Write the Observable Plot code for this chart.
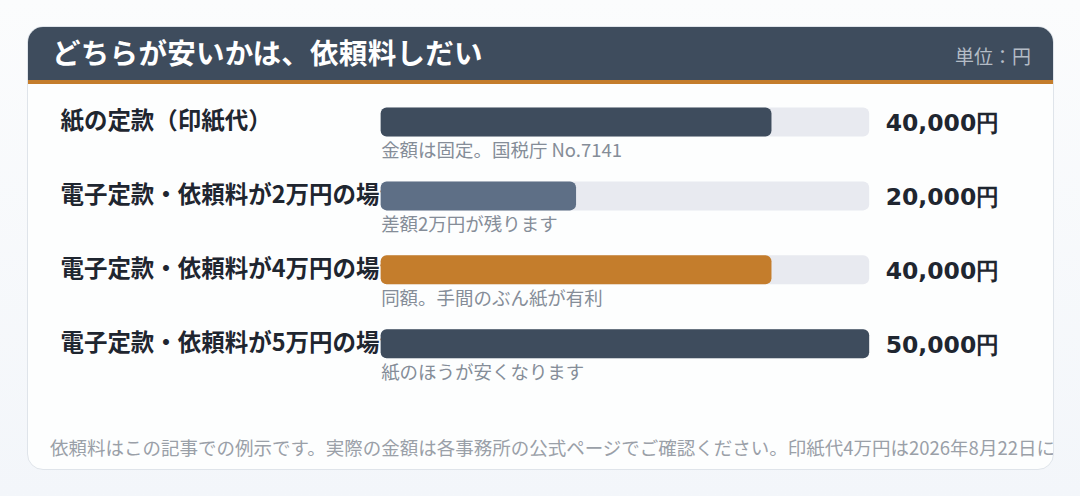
<!DOCTYPE html>
<html><head><meta charset="utf-8">
<script src="https://cdn.jsdelivr.net/npm/d3@7"></script>
<script src="https://cdn.jsdelivr.net/npm/@observablehq/plot@0.6"></script>
<style>
html,body{margin:0;padding:0;}
body{width:1080px;height:496px;background:linear-gradient(180deg,#fbfcfd 0%,#f3f6fa 100%);font-family:"Noto Sans CJK JP","Noto Sans",sans-serif;position:relative;overflow:hidden;}
#card{position:absolute;left:27px;top:26px;width:1027px;height:444px;box-sizing:border-box;background:#fdfefe;border:1px solid #dfe4ea;border-radius:16px;overflow:hidden;}
#head{position:absolute;left:-1px;top:-1px;width:1027px;height:54px;background:#3e4c5d;border-bottom:4px solid #c47d2c;}
#title{position:absolute;left:25px;top:6px;color:#fff;font-weight:700;font-size:28.5px;line-height:40px;letter-spacing:0.3px;}
#unit{position:absolute;right:23px;top:17px;color:#b4bcc6;font-size:19px;line-height:26px;}
#chart{position:absolute;left:-1px;top:57px;}
#foot{position:absolute;left:22px;top:408px;color:#9aa0a8;font-size:18.5px;line-height:24px;white-space:nowrap;}
</style></head>
<body>
<div id="card">
  <div id="head"><div id="title"></div><div id="unit"></div></div>
  <div id="chart"></div>
  <div id="foot"></div>
</div>
<script>
const title = "どちらが安いかは、依頼料しだい";
const unit = "単位：円";
const categories = ["紙の定款（印紙代）", "電子定款・依頼料が2万円の場合", "電子定款・依頼料が4万円の場合", "電子定款・依頼料が5万円の場合"];
const values = [40000, 20000, 40000, 50000];
const notes = ["金額は固定。国税庁 No.7141", "差額2万円が残ります", "同額。手間のぶん紙が有利", "紙のほうが安くなります"];
const barColors = ["#3e4c5d", "#5e6f86", "#c47d2c", "#3e4c5d"];
const maxValue = 50000;
const footnote = "依頼料はこの記事での例示です。実際の金額は各事務所の公式ページでご確認ください。印紙代4万円は2026年8月22日に国税庁のページで確認しました。";

document.getElementById("title").textContent = title;
document.getElementById("unit").textContent = unit;
document.getElementById("foot").textContent = footnote;

const rows = categories.map((c, i) => ({cat: c, value: values[i], note: notes[i], color: barColors[i], max: maxValue}));

const fmt = v => d3.format(",")(v) + "円";

const chart = Plot.plot({
  width: 1027,
  height: 320,
  marginLeft: 354,
  marginRight: 184,
  marginTop: 1,
  marginBottom: 23,
  style: {background: "transparent", overflow: "visible"},
  x: {domain: [0, maxValue], axis: null},
  y: {domain: categories, padding: 0, axis: null},
  marks: [
    Plot.text(rows, {x: 0, y: "cat", text: "cat", textAnchor: "start", dx: -321, dy: -1,
      fontSize: 23.5, fontWeight: 700, fill: "#1f2630", fontFamily: "Noto Sans CJK JP"}),
    Plot.barX(rows, {x1: 0, x2: "max", y: "cat", fill: "#e8eaf0", rx: 6, insetTop: 22.5, insetBottom: 22.5}),
    Plot.barX(rows, {x1: 0, x2: "value", y: "cat", fill: "color", rx: 6, insetTop: 22.5, insetBottom: 22.5}),
    Plot.text(rows, {x: maxValue, y: "cat", text: d => fmt(d.value), textAnchor: "start", dx: 16, dy: 1,
      fontSize: 23.5, fontWeight: 700, fill: "#1f2630", fontFamily: "DejaVu Sans"}),
    Plot.text(rows, {x: 0, y: "cat", text: "note", textAnchor: "start", dy: 29,
      fontSize: 18.5, fill: "#858d98", fontFamily: "Noto Sans CJK JP"})
  ]
});
document.getElementById("chart").appendChild(chart);
</script>
</body></html>
